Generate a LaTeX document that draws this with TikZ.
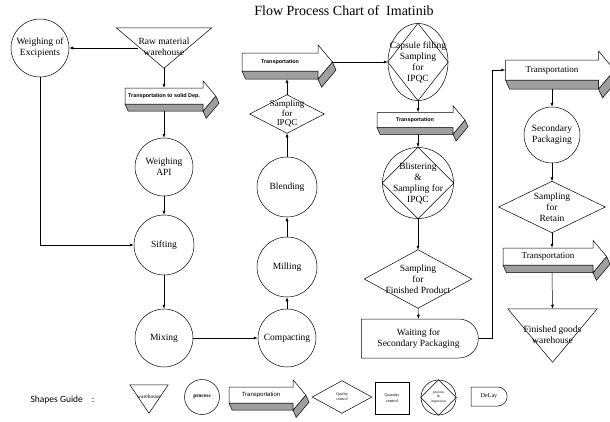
\documentclass[tikz,border=0pt]{standalone}
\usepackage{fontspec}
\setmainfont{Liberation Serif}
\newfontfamily\arialfont{Liberation Sans}
\newfontfamily\calibrifont{Carlito}
\usetikzlibrary{arrows.meta,shapes.geometric,shapes.misc}

\tikzset{
  conn/.style={-{Latex[length=4pt,width=3pt]}},
  proc/.style={circle, draw, inner sep=0pt, align=center},
  whouse/.style={rectangle, inner sep=0pt, align=center,
    append after command={\pgfextra{\draw (\tikzlastnode.north west) -- (\tikzlastnode.north east) -- (\tikzlastnode.south) -- cycle;}}},
  qual/.style={rectangle, inner sep=0pt, align=center,
    append after command={\pgfextra{\draw (\tikzlastnode.north) -- (\tikzlastnode.east) -- (\tikzlastnode.south) -- (\tikzlastnode.west) -- cycle;}}},
  procins/.style={proc,
    append after command={\pgfextra{\draw (\tikzlastnode.north) -- (\tikzlastnode.east) -- (\tikzlastnode.south) -- (\tikzlastnode.west) -- cycle;}}},
  waitbox/.style={rounded rectangle, rounded rectangle left arc=none, draw, inner sep=0pt, align=center},
  trbody/.style={rectangle, inner sep=0pt, align=center},
  trshade/.style={draw, fill=gray!75},
  trface/.style={draw, fill=white},
  trsmall/.style={font=\arialfont\bfseries\fontsize{5.4}{6}\selectfont},
  trbig/.style={font=\rmfamily\fontsize{9}{10}\selectfont},
}

% raised text block for the warehouse triangles
\newcommand{\uptext}[2]{\raisebox{#1}{\begin{tabular}{@{}c@{}}#2\end{tabular}}}

% 3d transport arrow: name, x, y, width, height, style, text
\newcommand{\transparrow}[7]{%
  \pgfmathsetmacro{\trxa}{#2-#4/2}%
  \pgfmathsetmacro{\trxb}{#2+#4/2}%
  \pgfmathsetmacro{\trya}{#3-#5/2}%
  \pgfmathsetmacro{\tryb}{#3+#5/2}%
  \pgfmathsetmacro{\trxt}{\trxb+0.8*#5}%
  \pgfmathsetmacro{\trd}{0.45*#5}%
  \pgfmathsetmacro{\trdx}{0.2*#5}%
  \draw[trshade] (\trxa,\tryb) -- (\trxb,\tryb) -- (\trxb,\tryb+\trd) -- (\trxt,#3) -- (\trxt+\trdx,#3+\trd)
    -- (\trxb+\trdx,\tryb+2*\trd) -- (\trxb,\tryb+\trd) -- (\trxa+\trdx,\tryb+\trd) -- cycle;
  \draw[trface] (\trxa,\trya) -- (\trxb,\trya) -- (\trxb,\trya-\trd) -- (\trxt,#3) -- (\trxb,\tryb+\trd)
    -- (\trxb,\tryb) -- (\trxa,\tryb) -- cycle;
  \node[trbody, #6, minimum width=#4, minimum height=#5] (#1) at (#2,#3) {#7};
  \coordinate (#1-tip) at (\trxt,#3);
  \coordinate (#1-base) at (#2,\tryb+\trd);
}

\begin{document}
\begin{tikzpicture}[x=1pt, y=-1pt, line width=0.5pt, font=\rmfamily\fontsize{9.5}{11}\selectfont]
  \path[use as bounding box, fill=white] (0,0) rectangle (610,421);

  \node[font=\rmfamily\fontsize{14}{16}\selectfont] (title) at (344,11) {Flow Process Chart of\ \ Imatinib};

  % first column
  \node[proc, minimum size=58] (weighex) at (40,48) {Weighing of\\Excipients};
  \node[whouse, minimum width=95, minimum height=40] (rawmat) at (164,48) {\uptext{4pt}{Raw material\\warehouse}};
  \transparrow{trsolid}{164}{96}{78}{16}{trsmall}{Transportation to solid Dep.}
  \node[proc, minimum size=58] (weighapi) at (164,167) {Weighing\\API};
  \node[proc, minimum size=60] (sifting) at (164,245) {Sifting};
  \node[proc, minimum size=58] (mixing) at (164,338) {Mixing};

  % second column
  \node[proc, minimum size=58] (compact) at (287,338) {Compacting};
  \node[proc, minimum size=60] (milling) at (287,267) {Milling};
  \node[proc, minimum size=60] (blend) at (287,187) {Blending};
  \node[qual, minimum width=74, minimum height=38, font=\rmfamily\fontsize{9}{9.5}\selectfont] (ipqc) at (287,114) {Sampling\\for\\IPQC};
  \transparrow{tr1}{280}{62}{76}{18}{trsmall}{Transportation}

  % third column
  \node[procins, ellipse, inner xsep=-9pt, inner ysep=0pt, minimum width=60, minimum height=77] (capsule) at (418,62) {Capsule filling\\Sampling\\for\\IPQC};
  \transparrow{tr2}{415}{120}{76}{15}{trsmall}{Transportation}
  \node[procins, minimum size=71] (blister) at (418,183) {Blistering\\\&\\Sampling for\\IPQC};
  \node[qual, minimum width=107, minimum height=58] (sampfp) at (418,279) {Sampling\\for\\Finished Product};
  \node[waitbox, minimum width=117, minimum height=39] (waiting) at (418.5,338.5) {Waiting for\\Secondary Packaging};

  % fourth column
  \transparrow{tr3}{552}{70}{93}{20}{trbig}{Transportation}
  \node[proc, minimum size=56] (secpack) at (552,135) {Secondary\\Packaging};
  \node[qual, minimum width=106, minimum height=51] (retain) at (552,207) {Sampling\\for\\Retain};
  \transparrow{tr4}{548}{256.5}{90}{17}{trbig}{Transportation}
  \node[whouse, minimum width=89, minimum height=53] (fgwh) at (552.5,335.5) {\uptext{7pt}{Finished goods\\warehouse}};

  % connectors
  \draw[conn] ([xshift=22pt]rawmat.west) -- (weighex.east);
  \draw[conn] (rawmat.south) -- (trsolid.north);
  \draw[conn] (trsolid-base) -- (weighapi.north);
  \draw[conn] (weighapi.south) -- (sifting.north);
  \draw[conn] (weighex.south) |- (sifting.west);
  \draw[conn] (sifting.south) -- (mixing.north);
  \draw[conn] (mixing.east) -- (compact.west);
  \draw[conn] (compact.north) -- (milling.south);
  \draw[conn] (milling.north) -- (blend.south);
  \draw[conn] (blend.north) -- (ipqc.south);
  \draw[conn] (ipqc.north) -- (ipqc.north |- tr1-base);
  \draw[conn] (tr1-tip) -- (capsule.west);
  \draw[conn] (capsule.south) -- (capsule.south |- tr2.north);
  \draw[conn] (capsule.south |- tr2-base) -- (blister.north);
  \draw[conn] (blister.south) -- (sampfp.north);
  \draw[conn] (sampfp.south) -- (waiting.north);
  \draw[conn] (waiting.east) -- ++(14,0) |- (tr3.west);
  \draw[conn] (tr3-base) -- (secpack.north);
  \draw[conn] (secpack.south) -- (retain.north);
  \draw[conn] (retain.south) -- (retain.south |- tr4.north);
  \draw[conn] (retain.south |- tr4-base) -- (fgwh.north);

  % shapes guide
  \node[anchor=west, font=\calibrifont\fontsize{9.5}{11}\selectfont] (guide) at (27,400) {Shapes Guide\hspace{9pt}:};
  \node[whouse, minimum width=38, minimum height=28, font=\rmfamily\fontsize{5.5}{6}\selectfont] (lgware) at (149,399) {\uptext{6pt}{warehouse}};
  \node[proc, minimum size=35, font=\rmfamily\bfseries\fontsize{5.5}{6}\selectfont] (lgproc) at (202,397) {process};
  \transparrow{lgtrans}{261}{395}{64}{16}{font=\arialfont\fontsize{6}{7}\selectfont}{Transportation}
  \node[qual, minimum width=59, minimum height=32, font=\rmfamily\fontsize{4}{4.8}\selectfont] (lgqual) at (342,397) {Quality\\control};
  \node[draw, rectangle, inner sep=0pt, align=center, minimum width=34, minimum height=32, font=\rmfamily\fontsize{4.2}{5.5}\selectfont] (lgquant) at (392,398) {Quantity\\control};
  \node[procins, minimum size=35, font=\rmfamily\fontsize{3.6}{4.6}\selectfont] (lgpi) at (438.5,397.5) {process\\\&\\inspection};
  \node[waitbox, minimum width=36, minimum height=19, font=\rmfamily\fontsize{6}{7}\selectfont] (lgdelay) at (489,396.5) {DeLay};
\end{tikzpicture}
\end{document}
